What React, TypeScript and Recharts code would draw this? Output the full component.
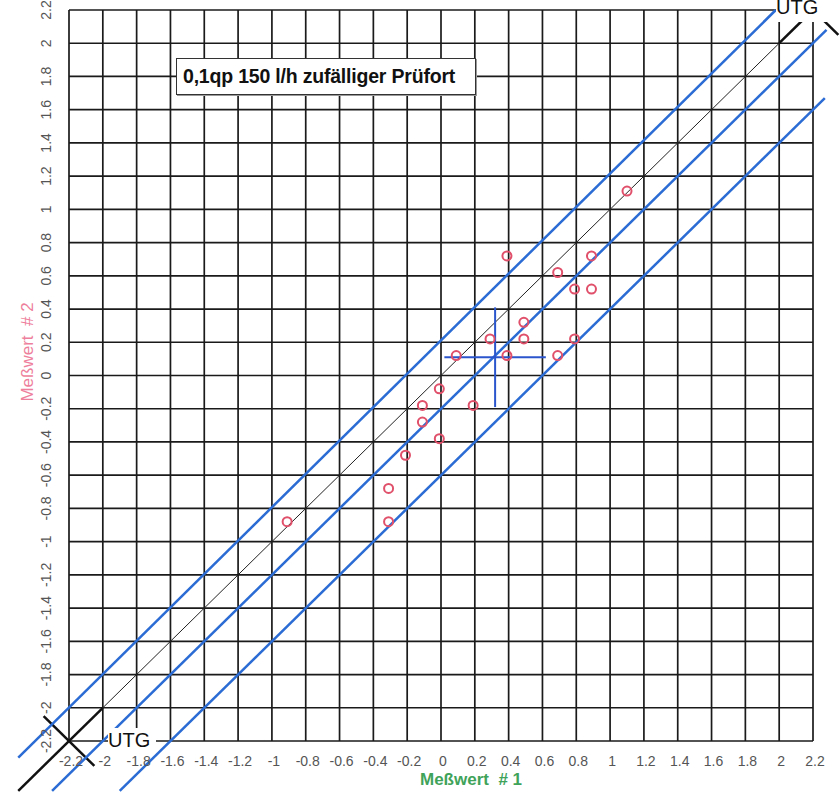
import React from 'react';
import { ScatterChart, Scatter, XAxis, YAxis, CartesianGrid, ReferenceLine } from 'recharts';

// grid / tick values (both axes)
const TICKS = [-2.2, -2, -1.8, -1.6, -1.4, -1.2, -1, -0.8, -0.6, -0.4, -0.2, 0, 0.2, 0.4, 0.6, 0.8, 1, 1.2, 1.4, 1.6, 1.8, 2, 2.2];

// Meßwert #1 / Meßwert #2 pairs
const MESS_1 = [0.39, 0.89, 0.69, 0.79, 0.89, 0.49, 0.29, 0.49, 0.79, 0.09, 0.39, 0.69, -0.01, -0.11, 0.19, -0.11, -0.01, -0.21, -0.31, -0.31, -0.91, 1.1];
const MESS_2 = [0.72, 0.72, 0.62, 0.52, 0.52, 0.32, 0.22, 0.22, 0.22, 0.12, 0.12, 0.12, -0.08, -0.18, -0.18, -0.28, -0.38, -0.48, -0.68, -0.88, -0.88, 1.11];

// mean cross
const CROSS_CENTER = { x: 0.32, y: 0.11 };
const CROSS_HALF = { x: 0.3, y: 0.3 };

// diagonal lines: [x1, y1, x2, y2]
const DIAGONAL = [-2.5, -2.5, 2.2, 2.2];
const BLUE_LINES = [
  [-2.5, -2.3, 1.98, 2.2],
  [-2.3, -2.5, 2.28, 2.08],
  [-1.9, -2.5, 2.27, 1.67],
];
const THICK_ENDS = [
  [-2.5, -2.5, -2.0, -2.0],
  [2.0, 2.0, 2.2, 2.2],
];
const UTG_MARKS = [
  [-2.35, -2.05, -2.05, -2.35],
  [2.05, 2.35, 2.35, 2.05],
];

const points = MESS_1.map((x, i) => ({ x, y: MESS_2[i] }));

const seg = (s: number[]) => [{ x: s[0], y: s[1] }, { x: s[2], y: s[3] }];

const XTick = (props: any) => (
  <text x={props.x + 2} y={761} textAnchor="middle" dominantBaseline="central" fill="#555" fontSize={14}>
    {props.payload.value}
  </text>
);

const YTick = (props: any) => (
  <text
    x={46}
    y={props.y}
    transform={`rotate(-90 46 ${props.y})`}
    textAnchor="middle"
    dominantBaseline="central"
    fill="#555"
    fontSize={14}
  >
    {props.payload.value}
  </text>
);

const RingDot = (props: any) => (
  <circle cx={props.cx} cy={props.cy} r={4.5} fill="none" stroke="#e0506a" strokeWidth={2} />
);

export default function App() {
  return (
    <div
      style={{
        position: 'absolute',
        left: 0,
        top: 0,
        width: 840,
        height: 796,
        background: '#fff',
        fontFamily: '"Liberation Sans", Arial, sans-serif',
        overflow: 'hidden',
      }}
    >
      <ScatterChart width={840} height={796} margin={{ top: 10, right: 27, bottom: 25, left: 29 }}>
        <CartesianGrid stroke="#1a1a1a" strokeWidth={1.7} />
        <XAxis
          type="number"
          dataKey="x"
          domain={[-2.2, 2.2]}
          ticks={TICKS}
          interval={0}
          axisLine={false}
          tickLine={false}
          height={30}
          tick={XTick}
        />
        <YAxis
          type="number"
          dataKey="y"
          domain={[-2.2, 2.2]}
          ticks={TICKS}
          interval={0}
          axisLine={false}
          tickLine={false}
          width={40}
          tick={YTick}
        />
        <ReferenceLine segment={seg(DIAGONAL)} stroke="#222" strokeWidth={1} ifOverflow="visible" />
        {THICK_ENDS.map((s, i) => (
          <ReferenceLine key={'t' + i} segment={seg(s)} stroke="#111" strokeWidth={2.5} ifOverflow="visible" />
        ))}
        {UTG_MARKS.map((s, i) => (
          <ReferenceLine key={'u' + i} segment={seg(s)} stroke="#111" strokeWidth={2.5} ifOverflow="visible" />
        ))}
        {BLUE_LINES.map((s, i) => (
          <ReferenceLine key={'b' + i} segment={seg(s)} stroke="#2a6bd4" strokeWidth={2.5} ifOverflow="visible" />
        ))}
        <ReferenceLine
          segment={[
            { x: CROSS_CENTER.x - CROSS_HALF.x, y: CROSS_CENTER.y },
            { x: CROSS_CENTER.x + CROSS_HALF.x, y: CROSS_CENTER.y },
          ]}
          stroke="#2a55cc"
          strokeWidth={2}
          ifOverflow="visible"
        />
        <ReferenceLine
          segment={[
            { x: CROSS_CENTER.x, y: CROSS_CENTER.y - CROSS_HALF.y },
            { x: CROSS_CENTER.x, y: CROSS_CENTER.y + CROSS_HALF.y },
          ]}
          stroke="#2a55cc"
          strokeWidth={2}
          ifOverflow="visible"
        />
        <Scatter data={points} shape={RingDot} isAnimationActive={false} />
      </ScatterChart>

      <div
        style={{
          position: 'absolute',
          left: 176,
          top: 58,
          width: 292,
          height: 35,
          border: '1px solid #333',
          background: '#fff',
          boxShadow: '1px 1px 0 #999',
          fontWeight: 'bold',
          fontSize: 19.5,
          lineHeight: '35px',
          paddingLeft: 6,
          boxSizing: 'content-box',
          color: '#111',
          whiteSpace: 'nowrap',
          letterSpacing: -0.2,
        }}
      >
        0,1qp 150 l/h zufälliger Prüfort
      </div>

      <div
        style={{
          position: 'absolute',
          left: 108,
          top: 728,
          width: 48,
          height: 25,
          background: '#fff',
          fontSize: 20,
          lineHeight: '25px',
          color: '#111',
        }}
      >
        UTG
      </div>
      <div
        style={{
          position: 'absolute',
          left: 776,
          top: -8,
          width: 58,
          height: 30,
          background: '#fff',
          fontSize: 20,
          lineHeight: '30px',
          color: '#111',
        }}
      >
        UTG
      </div>

      <div
        style={{
          position: 'absolute',
          left: 420,
          top: 770,
          fontSize: 17,
          fontWeight: 'bold',
          color: '#3fa35a',
          whiteSpace: 'pre',
        }}
      >
        {'Meßwert  # 1'}
      </div>
      <div
        style={{
          position: 'absolute',
          left: 28,
          top: 352,
          fontSize: 17,
          color: '#ee7f9c',
          whiteSpace: 'pre',
          transform: 'translate(-50%, -50%) rotate(-90deg)',
        }}
      >
        {'Meßwert  # 2'}
      </div>
    </div>
  );
}
